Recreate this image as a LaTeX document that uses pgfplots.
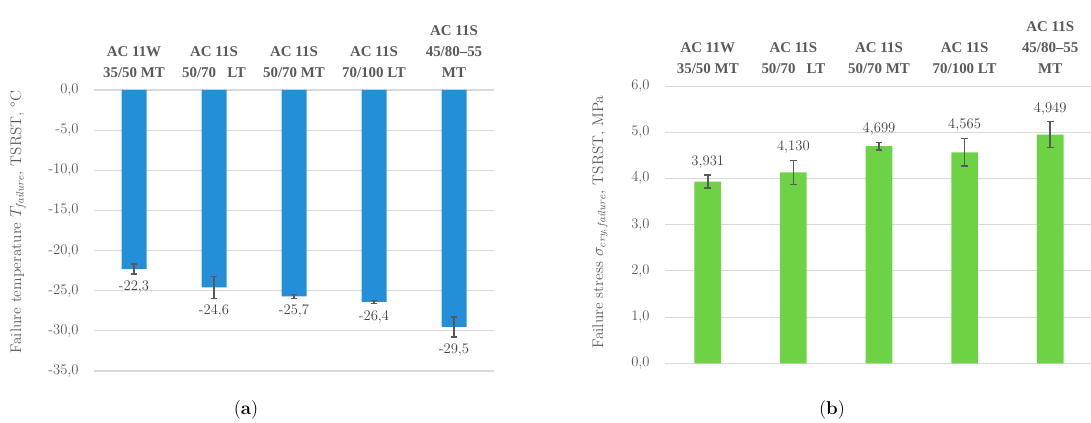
\documentclass[border=0pt]{standalone}
\usepackage{fontspec}
\newfontfamily\catfont{Liberation Serif}
\usepackage{pgfplots}
\pgfplotsset{compat=1.18}
\usepackage{pgfplotstable}
\definecolor{barblue}{RGB}{34,143,216}
\definecolor{bargreen}{RGB}{110,211,68}
\definecolor{txtgray}{RGB}{89,89,89}
\definecolor{lblgray}{RGB}{64,64,64}
\definecolor{gridgray}{RGB}{217,217,217}

\pgfplotstableread{
x y e ly lab
0 -22.3 0.6  -22.9 {-22,3}
1 -24.6 1.35 -25.95 {-24,6}
2 -25.7 0.25 -25.95 {-25,7}
3 -26.4 0.2  -26.6 {-26,4}
4 -29.5 1.25 -30.75 {-29,5}
}\tabA
\pgfplotstableread{
x y e ly lab
0 3.931 0.14 4.071 {3,931}
1 4.130 0.26 4.390 {4,130}
2 4.699 0.08 4.779 {4,699}
3 4.565 0.30 4.865 {4,565}
4 4.949 0.28 5.229 {4,949}
}\tabB

\pgfplotsset{
  common/.style={
    scale only axis,
    xmin=-0.5, xmax=4.5,
    axis line style={draw=none},
    major tick length=0pt,
    ymajorgrids, grid style={gridgray, line width=0.8pt},
    xtick={0,1,2,3,4},
    xticklabel pos=upper,
    xticklabels={{AC 11W\\35/50 MT},{AC 11S\\50/70\ \ \ LT},{AC 11S\\50/70 MT},{AC 11S\\70/100 LT},{AC 11S\\45/80–55\\MT}},
    xticklabel style={align=center, anchor=south, font=\catfont\fontsize{11.2}{15.7}\selectfont\bfseries, text=txtgray, yshift=6pt},
    yticklabel style={font=\fontsize{11}{13}\selectfont, text=txtgray, xshift=-8pt},
    /pgf/number format/.cd, fixed, fixed zerofill, precision=1, use comma, assume math mode=true,
    /pgfplots/.cd,
    ylabel style={font=\fontsize{11.5}{13}\selectfont, text=txtgray},
    clip=false,
  },
  ebar/.style={
    error bars/.cd, y dir=both, y explicit,
    error bar style={line width=1.1pt, color=txtgray},
    error mark options={rotate=90, mark size=2.5pt, line width=1.1pt, color=txtgray},
  },
}

\begin{document}
\begin{tikzpicture}
\useasboundingbox (0,0) rectangle (818.25pt,317.25pt);

\begin{axis}[common,
  at={(70.5pt,39pt)}, anchor=south west,
  width=300pt, height=210.75pt,
  ymin=-35, ymax=0, ytick={-35,-30,...,0},
  ylabel={Failure temperature $T_{\mathit{failure}}$, TSRST, \textdegree C},
  ylabel style={at={(axis description cs:-0.19,0.53)}, anchor=center},
]
\addplot[ybar, bar width=18.75pt, fill=barblue, draw=none, ebar]
  table[x=x, y=y, y error=e]{\tabA};
\addplot[draw=none, mark=none, nodes near coords, point meta=explicit symbolic,
  nodes near coords style={anchor=north, font=\fontsize{11}{13}\selectfont, text=lblgray, yshift=-1.5pt}]
  table[x=x, y=ly, meta=lab]{\tabA};
\end{axis}

\begin{axis}[common,
  at={(498.75pt,44.8pt)}, anchor=south west,
  width=321pt, height=207.9pt,
  ymin=0, ymax=6, ytick={0,1,...,6},
  ylabel={Failure stress $\sigma_{\mathit{cry},\,\mathit{failure}}$, TSRST, MPa},
  ylabel style={at={(axis description cs:-0.152,0.51)}, anchor=center},
]
\addplot[ybar, bar width=20pt, fill=bargreen, draw=none, ebar]
  table[x=x, y=y, y error=e]{\tabB};
\addplot[draw=none, mark=none, nodes near coords, point meta=explicit symbolic,
  nodes near coords style={anchor=south, font=\fontsize{11}{13}\selectfont, text=lblgray, yshift=1.5pt}]
  table[x=x, y=ly, meta=lab]{\tabB};
\end{axis}

\node[font=\fontsize{14}{16}\selectfont, text=black] at (184.5pt,9.75pt) {(\textbf{a})};
\node[font=\fontsize{14}{16}\selectfont, text=black] at (624pt,9.75pt) {(\textbf{b})};
\end{tikzpicture}
\end{document}
